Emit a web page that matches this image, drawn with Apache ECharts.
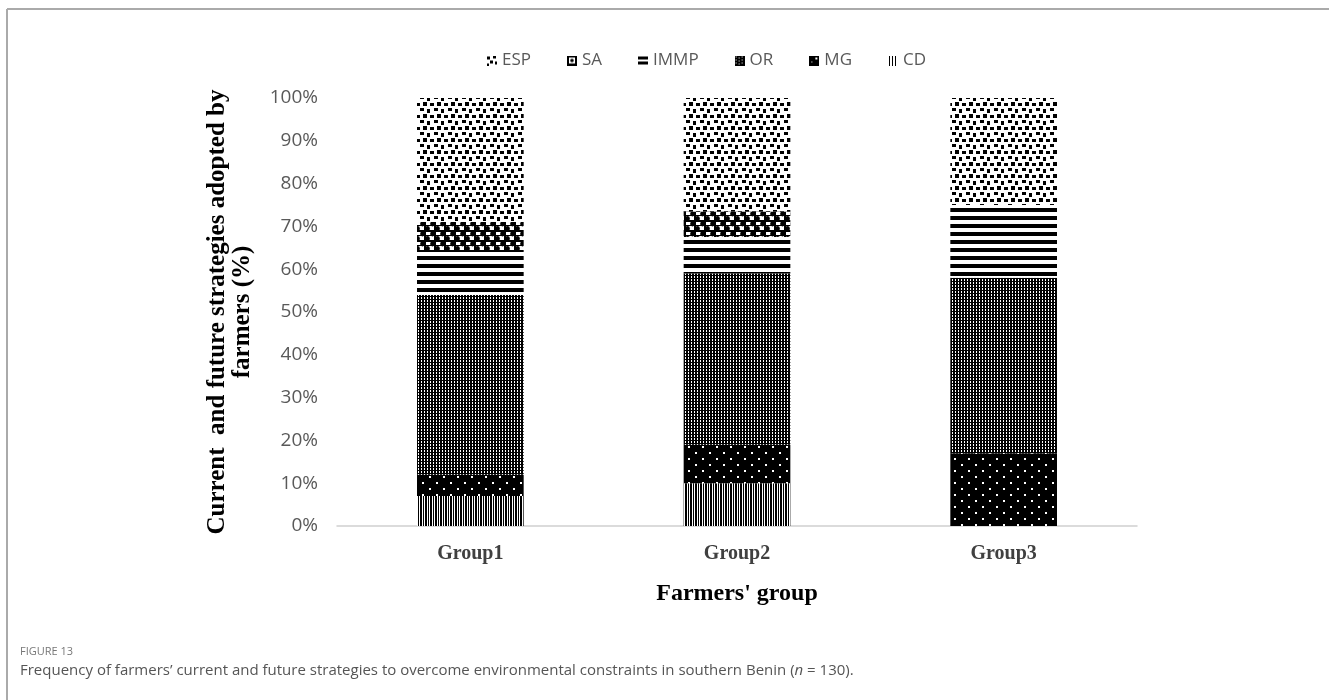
<!DOCTYPE html>
<html>
<head>
<meta charset="utf-8">
<title>Farmers' strategies by group</title>
<script src="https://cdn.jsdelivr.net/npm/echarts@6/dist/echarts.min.js"></script>
<style>
  html, body { margin: 0; padding: 0; background: #fff; }
  #chart { width: 1329px; height: 700px; }
</style>
</head>
<body>
<div id="chart"></div>
<script>
// Farmers' groups and the share (%) of each strategy, stacked bottom to top
const categories = ['Group1', 'Group2', 'Group3'];
const CD   = [7, 10, 0];
const MG   = [5, 9, 17];
const OR   = [42, 40, 41];
const IMMP = [10, 8.5, 17];
const SA   = [7, 6, 0];
const ESP  = [29, 26.5, 25];
const yTicks = [0, 10, 20, 30, 40, 50, 60, 70, 80, 90, 100];
const legendOrder = ['ESP', 'SA', 'IMMP', 'OR', 'MG', 'CD'];

// Draws a small black-and-white canvas
function canvasOf(w, h, draw) {
  const c = document.createElement('canvas');
  c.width = w; c.height = h;
  const g = c.getContext('2d');
  g.fillStyle = '#fff';
  g.fillRect(0, 0, w, h);
  g.fillStyle = '#000';
  draw(g, w, h);
  return c;
}
function pattern(w, h, draw) {
  return { image: canvasOf(w, h, draw), repeat: 'repeat' };
}
function dot(g, x, y, r) {
  g.beginPath(); g.arc(x, y, r, 0, Math.PI * 2); g.fill();
}

// Repeating fills for the bar segments
const fills = {
  ESP: pattern(14, 12, g => {
    g.fillRect(0, 0, 4, 3);
    g.fillRect(7, 1, 3, 4);
    g.fillRect(3, 6, 4, 4);
    g.fillRect(10, 7, 4, 3);
  }),
  SA: pattern(10, 10, g => {
    g.fillRect(0, 0, 10, 2);
    g.fillRect(0, 5, 10, 1);
    dot(g, 2.5, 4, 2.4);
    dot(g, 7.5, 8.5, 2.4);
    g.fillRect(4, 0, 2, 10);
  }),
  IMMP: pattern(1, 8, g => { g.fillRect(0, 0, 1, 4); }),
  OR: pattern(3, 3, g => {
    g.fillRect(0, 0, 3, 3);
    g.fillStyle = '#fff';
    g.fillRect(1, 0, 1, 2);
  }),
  MG: pattern(14, 12, g => {
    g.fillRect(0, 0, 14, 12);
    g.fillStyle = '#fff';
    g.fillRect(2, 2, 2, 2);
    g.fillRect(9, 8, 2, 2);
  }),
  CD: pattern(5, 1, g => {
    g.fillRect(0, 0, 2, 1);
    g.fillRect(3, 0, 1, 1);
  })
};

// Small swatches shown in the legend
const swatches = {
  ESP: canvasOf(10, 10, g => {
    g.fillRect(0, 1, 3, 3); g.fillRect(6, 0, 3, 3);
    g.fillRect(3, 5, 3, 3); g.fillRect(8, 6, 2, 3); g.fillRect(0, 8, 2, 2);
  }),
  SA: canvasOf(10, 10, g => {
    g.fillRect(0, 0, 10, 10);
    g.fillStyle = '#fff';
    g.fillRect(2, 2, 6, 6);
    g.fillStyle = '#000';
    dot(g, 5, 5, 1.8);
  }),
  IMMP: canvasOf(10, 10, g => { g.fillRect(0, 1, 10, 3); g.fillRect(0, 6, 10, 3); }),
  OR: canvasOf(10, 10, g => {
    g.fillRect(0, 0, 10, 10);
    g.fillStyle = '#fff';
    for (let y = 1; y < 10; y += 3) { g.fillRect(1, y, 1, 1); g.fillRect(4, y + 1, 1, 1); g.fillRect(7, y, 1, 1); }
  }),
  MG: canvasOf(10, 10, g => {
    g.fillRect(0, 0, 10, 10);
    g.fillStyle = '#fff';
    g.fillRect(6, 2, 2, 2); g.fillRect(2, 6, 1, 1);
  }),
  CD: canvasOf(10, 10, g => { g.fillRect(1, 0, 1, 10); g.fillRect(4, 0, 1, 10); g.fillRect(7, 0, 1, 10); })
};

const stack = [
  ['CD', CD], ['MG', MG], ['OR', OR], ['IMMP', IMMP], ['SA', SA], ['ESP', ESP]
];

const chart = echarts.init(document.getElementById('chart'), null, { renderer: 'canvas' });

chart.setOption({
  animation: false,
  backgroundColor: '#fff',
  grid: { left: 337, right: 192, top: 98, bottom: 174, containLabel: false },
  legend: {
    data: legendOrder.map(name => ({ name, icon: 'image://' + swatches[name].toDataURL() })),
    left: 482,
    top: 47,
    itemWidth: 10,
    itemHeight: 10,
    itemGap: 36,
    textStyle: { fontFamily: 'Open Sans', fontSize: 17, color: '#595959' }
  },
  xAxis: {
    type: 'category',
    data: categories,
    axisTick: { show: false },
    axisLine: { lineStyle: { color: '#d0d0d0', width: 1.5 } },
    axisLabel: {
      margin: 18,
      fontFamily: 'Liberation Serif',
      fontWeight: 'bold',
      fontSize: 20,
      color: '#404040'
    },
    name: "Farmers' group",
    nameLocation: 'middle',
    nameGap: 56,
    nameTextStyle: {
      fontFamily: 'Liberation Serif',
      fontWeight: 'bold',
      fontSize: 24,
      color: '#000'
    }
  },
  yAxis: {
    type: 'value',
    min: yTicks[0],
    max: yTicks[yTicks.length - 1],
    interval: yTicks[1] - yTicks[0],
    axisLine: { show: false },
    axisTick: { show: false },
    splitLine: { show: false },
    axisLabel: {
      margin: 19,
      formatter: '{value}%',
      fontFamily: 'Open Sans',
      fontSize: 19,
      color: '#595959'
    }
  },
  series: stack.map(([name, values]) => ({
    name,
    type: 'bar',
    stack: 'total',
    barWidth: '40%',
    data: values,
    itemStyle: { color: fills[name] },
    emphasis: { disabled: true }
  })),
  graphic: [
    // figure frame
    { type: 'line', shape: { x1: 7, y1: 9, x2: 1329, y2: 9 }, style: { stroke: '#aaaaaa', lineWidth: 2 } },
    { type: 'line', shape: { x1: 7, y1: 9, x2: 7, y2: 700 }, style: { stroke: '#aaaaaa', lineWidth: 2 } },
    // rotated y-axis title
    {
      type: 'text',
      x: 230, y: 312,
      rotation: Math.PI / 2,
      style: {
        text: 'Current  and future strategies adopted by\nfarmers (%)',
        align: 'center',
        verticalAlign: 'middle',
        fontFamily: 'Liberation Serif',
        fontWeight: 'bold',
        fontSize: 25,
        lineHeight: 25,
        fill: '#000'
      }
    },
    // caption
    {
      type: 'text', x: 20, y: 652,
      style: { text: 'FIGURE 13', verticalAlign: 'middle', fontFamily: 'Open Sans', fontSize: 11, fill: '#777' }
    },
    {
      type: 'text', x: 20, y: 671,
      style: {
        text: 'Frequency of farmers\u2019 current and future strategies to overcome environmental constraints in southern Benin ({i|n} = 130).',
        verticalAlign: 'middle',
        fontFamily: 'Open Sans',
        fontSize: 15,
        fill: '#555',
        rich: { i: { fontStyle: 'italic', fontFamily: 'Open Sans', fontSize: 15, fill: '#555' } }
      }
    }
  ]
});
</script>
</body>
</html>
